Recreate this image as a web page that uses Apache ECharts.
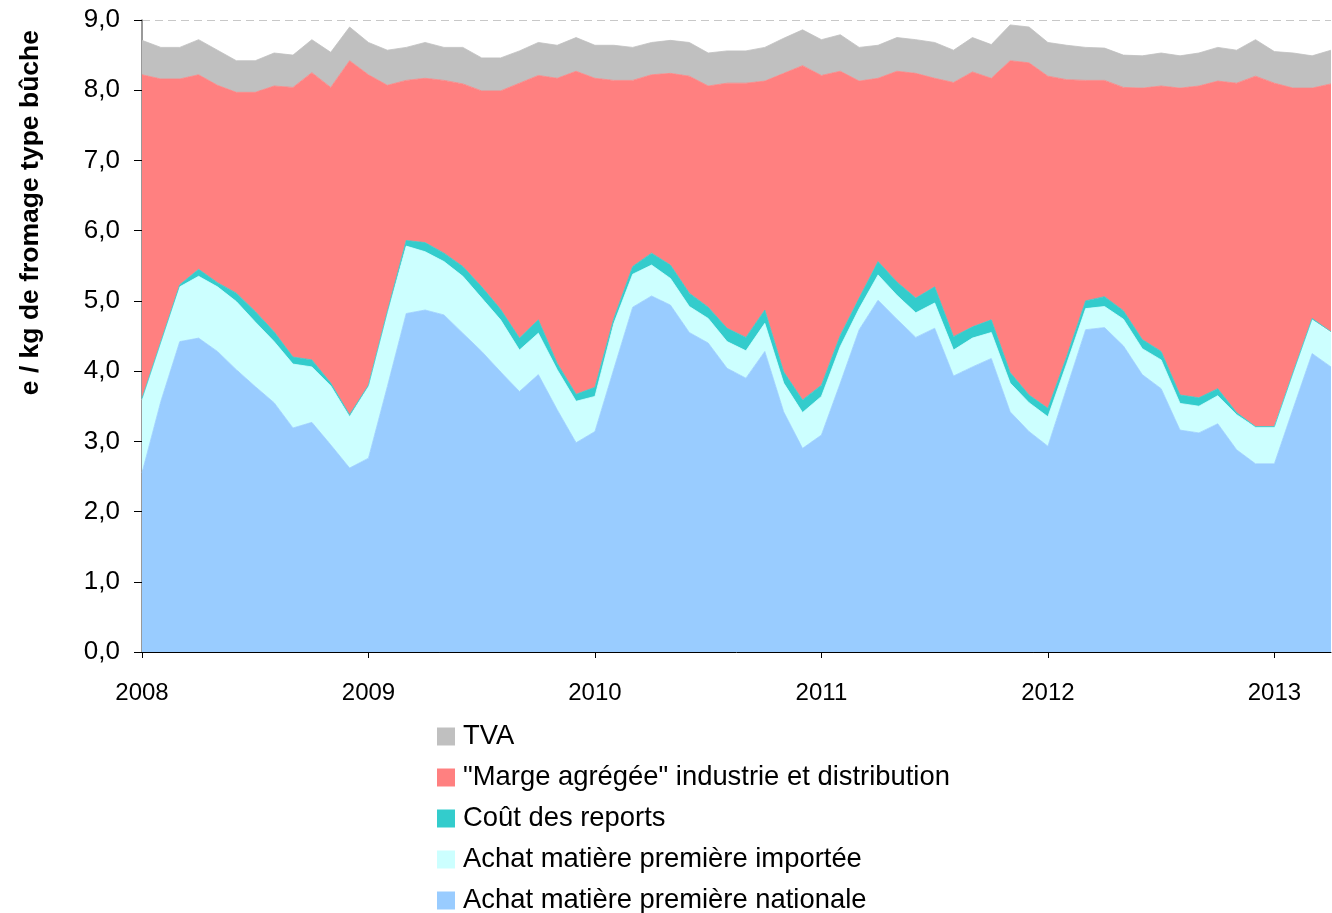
<!DOCTYPE html>
<html><head><meta charset="utf-8">
<script src="https://cdn.jsdelivr.net/npm/echarts@6/dist/echarts.min.js"></script>
<style>html,body{margin:0;padding:0;background:#fff}#c{width:1332px;height:913px}</style>
</head><body><div id="c"></div>
<script>
const years = ['2008','2009','2010','2011','2012','2013'];
const yTicks = [0,1,2,3,4,5,6,7,8,9];
const seriesNames = ['Achat matière première nationale','Achat matière première importée','Coût des reports','"Marge agrégée" industrie et distribution','TVA'];
const legendOrder = ['TVA','"Marge agrégée" industrie et distribution','Coût des reports','Achat matière première importée','Achat matière première nationale'];
const colors = ['#99CCFF','#CCFFFF','#33CCCC','#FF8080','#C0C0C0'];

const nationale = [2.55,3.57,4.42,4.47,4.28,4.02,3.78,3.55,3.19,3.27,2.95,2.62,
  2.76,3.78,4.82,4.87,4.80,4.54,4.28,3.99,3.71,3.95,3.45,2.98,
  3.14,4.03,4.91,5.07,4.94,4.55,4.40,4.04,3.90,4.28,3.42,2.90,
  3.09,3.83,4.59,5.01,4.74,4.48,4.61,3.93,4.06,4.18,3.42,3.14,
  2.93,3.76,4.59,4.62,4.36,3.95,3.75,3.16,3.12,3.25,2.88,2.68,
  2.68,3.47,4.25,4.06];
const importee = [1.04,0.83,0.78,0.88,0.92,0.97,0.92,0.87,0.91,0.79,0.84,0.73,
  1.02,1.04,0.96,0.83,0.76,0.81,0.76,0.74,0.59,0.59,0.57,0.59,
  0.50,0.65,0.47,0.44,0.38,0.37,0.35,0.38,0.39,0.40,0.41,0.51,
  0.55,0.52,0.30,0.36,0.34,0.35,0.36,0.37,0.41,0.37,0.41,0.41,
  0.42,0.35,0.30,0.30,0.38,0.37,0.41,0.38,0.38,0.40,0.50,0.52,
  0.52,0.50,0.48,0.48];
const reports = [0.02,0.02,0.03,0.10,0.06,0.12,0.15,0.14,0.10,0.10,0.04,0.03,
  0.02,0.03,0.08,0.13,0.12,0.14,0.16,0.15,0.17,0.19,0.09,0.10,
  0.13,0.07,0.11,0.17,0.19,0.19,0.16,0.19,0.19,0.19,0.16,0.18,
  0.16,0.16,0.15,0.19,0.19,0.21,0.23,0.19,0.16,0.18,0.15,0.11,
  0.12,0.10,0.11,0.14,0.12,0.13,0.12,0.12,0.12,0.10,0.03,0.01,
  0.01,0.02,0.02,0.02];
const marge = [4.61,3.74,2.93,2.77,2.81,2.86,3.12,3.50,3.84,4.09,4.21,5.04,
  4.42,3.22,2.28,2.34,2.46,2.60,2.79,3.11,3.63,3.48,4.06,4.60,
  4.40,3.39,2.65,2.54,2.73,3.09,3.15,3.49,3.62,3.26,4.25,4.76,
  4.41,3.76,3.09,2.61,3.00,3.20,2.97,3.62,3.63,3.44,4.44,4.73,
  4.73,3.94,3.14,3.08,3.18,3.58,3.78,4.37,4.44,4.38,4.69,4.99,
  4.89,4.04,3.28,3.53];
const tva = [0.49,0.45,0.45,0.50,0.50,0.45,0.45,0.47,0.46,0.47,0.50,0.48,
  0.46,0.50,0.47,0.51,0.47,0.52,0.47,0.47,0.46,0.47,0.47,0.48,
  0.47,0.50,0.47,0.46,0.47,0.48,0.47,0.46,0.46,0.48,0.50,0.51,
  0.51,0.52,0.48,0.47,0.48,0.48,0.51,0.46,0.49,0.48,0.51,0.51,
  0.48,0.49,0.47,0.46,0.46,0.46,0.47,0.46,0.47,0.48,0.47,0.52,
  0.45,0.50,0.46,0.48];

const categories = [];
for (let i = 0; i < nationale.length; i++) {
  const y = 2008 + Math.floor(i / 12), m = (i % 12) + 1;
  categories.push(y + '-' + (m < 10 ? '0' + m : m));
}
const values = [nationale, importee, reports, marge, tva];

const chart = echarts.init(document.getElementById('c'), null, {renderer: 'canvas'});
const font = 'Arial, "Liberation Sans", sans-serif';
const yearTick = (idx) => idx % 12 === 0;

chart.setOption({
  animation: false,
  grid: {left: 142, right: 1, top: 20, bottom: 261, containLabel: false},
  legend: {
    orient: 'vertical', left: 432, top: 718, height: 220, itemWidth: 18, itemHeight: 18, itemGap: 14,
    icon: 'rect', data: legendOrder,
    textStyle: {fontFamily: font, fontSize: 27.4, lineHeight: 27, color: '#000', padding: [0,0,0,3]}
  },
  graphic: [{
    type: 'text', left: 17, top: 30, rotation: Math.PI / 2,
    style: {text: 'e / kg de fromage type bûche', font: 'bold 26.5px ' + font, fill: '#000'}
  }],
  xAxis: {
    type: 'category', data: categories, boundaryGap: false,
    axisLine: {lineStyle: {color: '#000', width: 1}},
    axisTick: {show: true, interval: (i) => yearTick(i), length: 6, lineStyle: {color: '#000'}},
    axisLabel: {interval: (i) => yearTick(i), formatter: (v) => v.slice(0, 4), margin: 29,
      fontFamily: font, fontSize: 24, color: '#000'},
    splitLine: {show: false}
  },
  yAxis: {
    type: 'value', min: yTicks[0], max: yTicks[yTicks.length - 1], interval: 1,
    axisLine: {show: true, lineStyle: {color: '#777', width: 1.5}},
    axisTick: {show: true, length: 8, lineStyle: {color: '#000'}},
    axisLabel: {formatter: (v) => v.toFixed(1).replace('.', ','), margin: 22,
      fontFamily: font, fontSize: 26, color: '#000'},
    splitLine: {show: true, lineStyle: {color: '#c8c8c8', type: [8, 5], width: 1}}
  },
  series: seriesNames.map((name, k) => ({
    name, type: 'line', stack: 'total', data: values[k], showSymbol: false, symbol: 'none',
    lineStyle: {width: 0.8, color: colors[k]},
    areaStyle: {color: colors[k], opacity: 1},
    itemStyle: {color: colors[k]},
    emphasis: {disabled: true}
  }))
});
</script></body></html>
